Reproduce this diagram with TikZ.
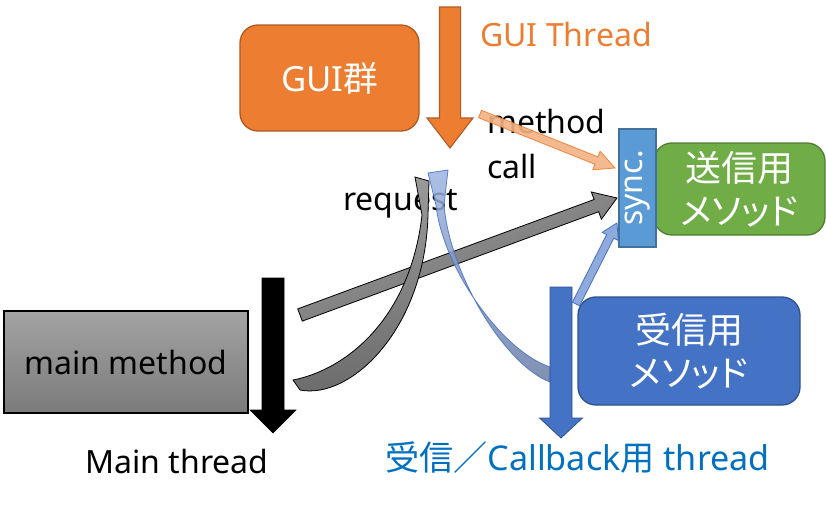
\documentclass[tikz,border=0pt]{standalone}
\usepackage{fontspec}
\setmainfont{Noto Sans}
\newfontfamily\jp[RawFeature=+palt]{Noto Sans CJK JP}
\usetikzlibrary{calc}
\definecolor{orangeF}{HTML}{ED7D31}
\definecolor{orangeD}{HTML}{AE5A21}
\definecolor{orangeL}{HTML}{F4B183}
\definecolor{syncF}{HTML}{5B9BD5}
\definecolor{syncD}{HTML}{41719C}
\definecolor{greenF}{HTML}{70AD47}
\definecolor{greenD}{HTML}{507E32}
\definecolor{blueF}{HTML}{4472C4}
\definecolor{blueD}{HTML}{2F528F}
\definecolor{blueL}{HTML}{8FAADC}
\definecolor{blueT}{HTML}{0070C0}
\definecolor{curveTop}{HTML}{9DB4E2}
\definecolor{curveBot}{HTML}{6A7DA6}
\newcommand{\blockarrow}[6]{%
  \coordinate (bahead) at ($(#3)!#6!(#2)$);
  \draw[#1] ($(#2)!#4!90:(#3)$) -- ($(bahead)!#4!90:(#3)$) -- ($(bahead)!#5!90:(#3)$) -- (#3)
    -- ($(bahead)!#5!-90:(#3)$) -- ($(bahead)!#4!-90:(#3)$) -- ($(#2)!#4!-90:(#3)$) -- cycle;}
\tikzset{
  lbl/.style={inner sep=0pt, font=\fontsize{24}{28}\selectfont},
  rbox/.style={rounded corners=13.5pt, line width=1pt, text=white, align=center, inner sep=0pt},
  jpbox/.style={font=\jp\fontsize{27}{32}\selectfont},
}
\begin{document}
\begin{tikzpicture}[x=0.75pt,y=-0.75pt]
\useasboundingbox (0,0) rectangle (826,507);
% labels
\node[lbl, anchor=base west, text=orangeF] (guithread) at (480,46) {GUI Thread};
\node[lbl, anchor=base west] (method) at (487,133) {method};
\node[lbl, anchor=base west] (call) at (487,178) {call};
\node[lbl, anchor=base west] (request) at (343,210) {request};
\node[lbl, anchor=base] (mainthread) at (177,473) {Main thread};
\node[lbl, anchor=base, text=blueT, font=\fontsize{25.6}{30}\selectfont] (cbthread) at (577.5,470) {{\jp 受信／}Callback{\jp 用} thread};
% GUI box and thread
\node[rbox, fill=orangeF, draw=orangeD, minimum width=134.25pt, minimum height=79.5pt,
  font=\fontsize{26}{30}\selectfont] (gui) at (329.5,78) {GUI{\jp 群}};
\coordinate (guiT0) at (450,7);
\coordinate (guiT1) at (450,148);
\blockarrow{fill=orangeF, draw=orangeD, line width=0.8pt}{guiT0}{guiT1}{7.9pt}{17.25pt}{22.5pt}
% method call arrow
\coordinate (mc0) at (480,114);
\coordinate (mc1) at (615,168);
\blockarrow{fill=orangeL, draw=orangeF, line width=0.6pt, opacity=0.9}{mc0}{mc1}{3pt}{7.5pt}{15pt}
% grey straight arrow
\coordinate (g0) at (300,315);
\coordinate (g1) at (617,198);
\blockarrow{top color=black!38, bottom color=black!58, shading angle=20, draw=black, line width=0.6pt}{g0}{g1}{4.9pt}{10.9pt}{16.5pt}
% grey curved arrow (request)
\draw[top color=black!40, bottom color=black!58, draw=black, line width=0.6pt]
  (293,380) .. controls (345,370) and (410,320) .. (422,215) -- (415,177) -- (429,181) -- (428,215)
  .. controls (425,330) and (350,400) .. (300,390) -- cycle;
% blue curved arrow (callback)
\draw[top color=curveTop, bottom color=curveBot, draw=blueF, line width=0.6pt, opacity=0.85]
  (550,367) .. controls (500,350) and (442,265) .. (436,205) -- (428,173) -- (448,170) -- (444,205)
  .. controls (450,275) and (505,365) .. (550,382) -- cycle;
% threads
\coordinate (mt0) at (273,278);
\coordinate (mt1) at (273,433);
\blockarrow{fill=black, draw=black}{mt0}{mt1}{8.25pt}{17.25pt}{17.25pt}
\coordinate (bt0) at (561,287);
\coordinate (bt1) at (561,438);
\blockarrow{fill=blueF, draw=blueD, line width=0.6pt}{bt0}{bt1}{8.25pt}{16.1pt}{15pt}
% main method box
\node[draw=black, line width=0.8pt, top color=black!36, bottom color=black!52, inner sep=0pt,
  minimum width=183pt, minimum height=76.5pt, font=\fontsize{24}{28}\selectfont] (mainbox) at (126,362) {main method};
% receive box
\node[rbox, fill=blueF, draw=blueD, minimum width=166.5pt, minimum height=81pt, jpbox] (recv) at (689,351) {受信用\\メソッド};
% light blue arrow
\coordinate (lb0) at (576,304);
\coordinate (lb1) at (617,223);
\blockarrow{fill=blueL, draw=blueF, line width=0.6pt}{lb0}{lb1}{3pt}{6.75pt}{11.25pt}
% send box and sync
\node[rbox, fill=greenF, draw=greenD, minimum width=128.25pt, minimum height=69pt, jpbox] (send) at (739.5,189) {送信用\\メソッド};
\node[draw=syncD, fill=syncF, line width=0.8pt, rotate=90, text=white, inner sep=0pt,
  minimum width=88.5pt, minimum height=27.75pt, font=\fontsize{24}{28}\selectfont] (sync) at (637.5,188) {sync.};
\end{tikzpicture}
\end{document}
